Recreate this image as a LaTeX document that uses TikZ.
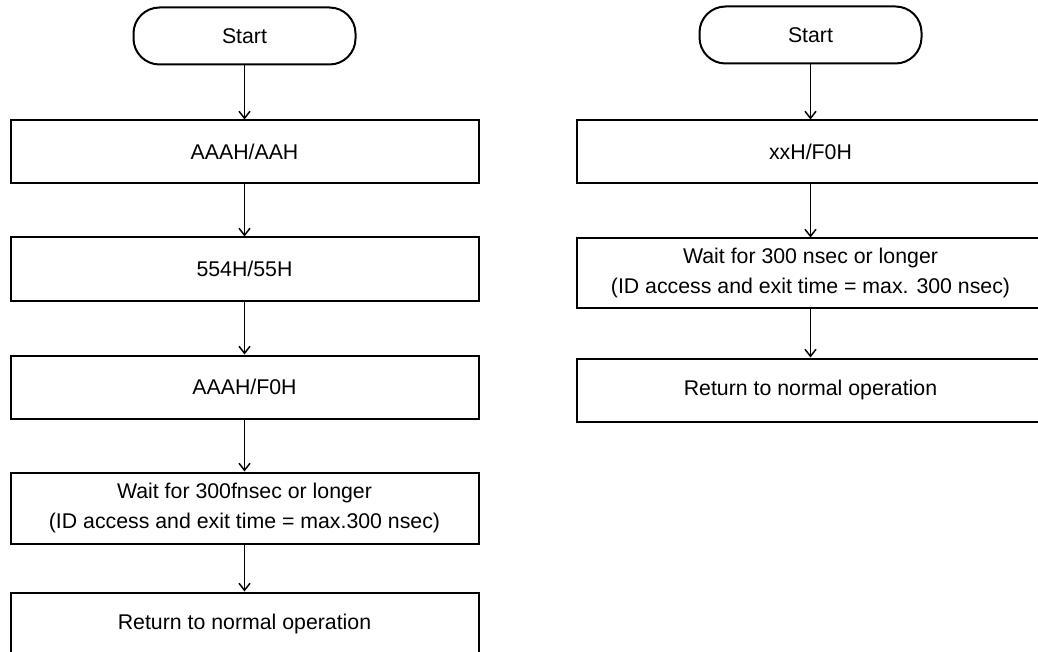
\documentclass[tikz,border=0pt]{standalone}
\usepackage{fontspec}
\setmainfont{Liberation Sans}
\usetikzlibrary{arrows.meta}

\tikzset{
  termbox/.style={draw,line width=2pt,rounded corners=26pt,
    minimum width=222pt,minimum height=57pt,inner sep=0pt},
  stepbox/.style={draw,line width=2pt,minimum width=468pt,
    minimum height=63pt,inner sep=0pt,align=center},
  flow/.style={-{Straight Barb[length=7pt,width=11pt]},line width=1.5pt}
}

\begin{document}
\begin{tikzpicture}[x=1pt,y=-1pt,
    every node/.style={font=\fontsize{21.3}{30}\selectfont}]
  \clip (0,0) rectangle (1038,652);
  \useasboundingbox (0,0) rectangle (1038,652);
  % left flow
  \node[termbox] (t1) at (244.5,36) {Start};
  \node[stepbox] (a1) at (244.5,152) {AAAH/AAH};
  \node[stepbox] (a2) at (244.5,269) {554H/55H};
  \node[stepbox] (a3) at (244.5,387) {AAAH/F0H};
  \node[stepbox,minimum height=71pt] (a4) at (244.5,508)
    {Wait for 300fnsec or longer\\(ID access and exit time = max.300 nsec)};
  \node[stepbox] (a5) at (244.5,624) {Return to normal operation};
  \draw[flow] (t1) -- (a1);
  \draw[flow] (a1) -- (a2);
  \draw[flow] (a2) -- (a3);
  \draw[flow] (a3) -- (a4);
  \draw[flow] (a4) -- (a5);
  % right flow
  \node[termbox] (t2) at (810.5,35) {Start};
  \node[stepbox] (b1) at (810.5,152) {xxH/F0H};
  \node[stepbox,minimum height=69pt] (b2) at (810.5,273)
    {Wait for 300 nsec or longer\\(ID access and exit time = max. 300 nsec)};
  \node[stepbox] (b3) at (810.5,390) {Return to normal operation};
  \draw[flow] (t2) -- (b1);
  \draw[flow] (b1) -- (b2);
  \draw[flow] (b2) -- (b3);
\end{tikzpicture}
\end{document}
